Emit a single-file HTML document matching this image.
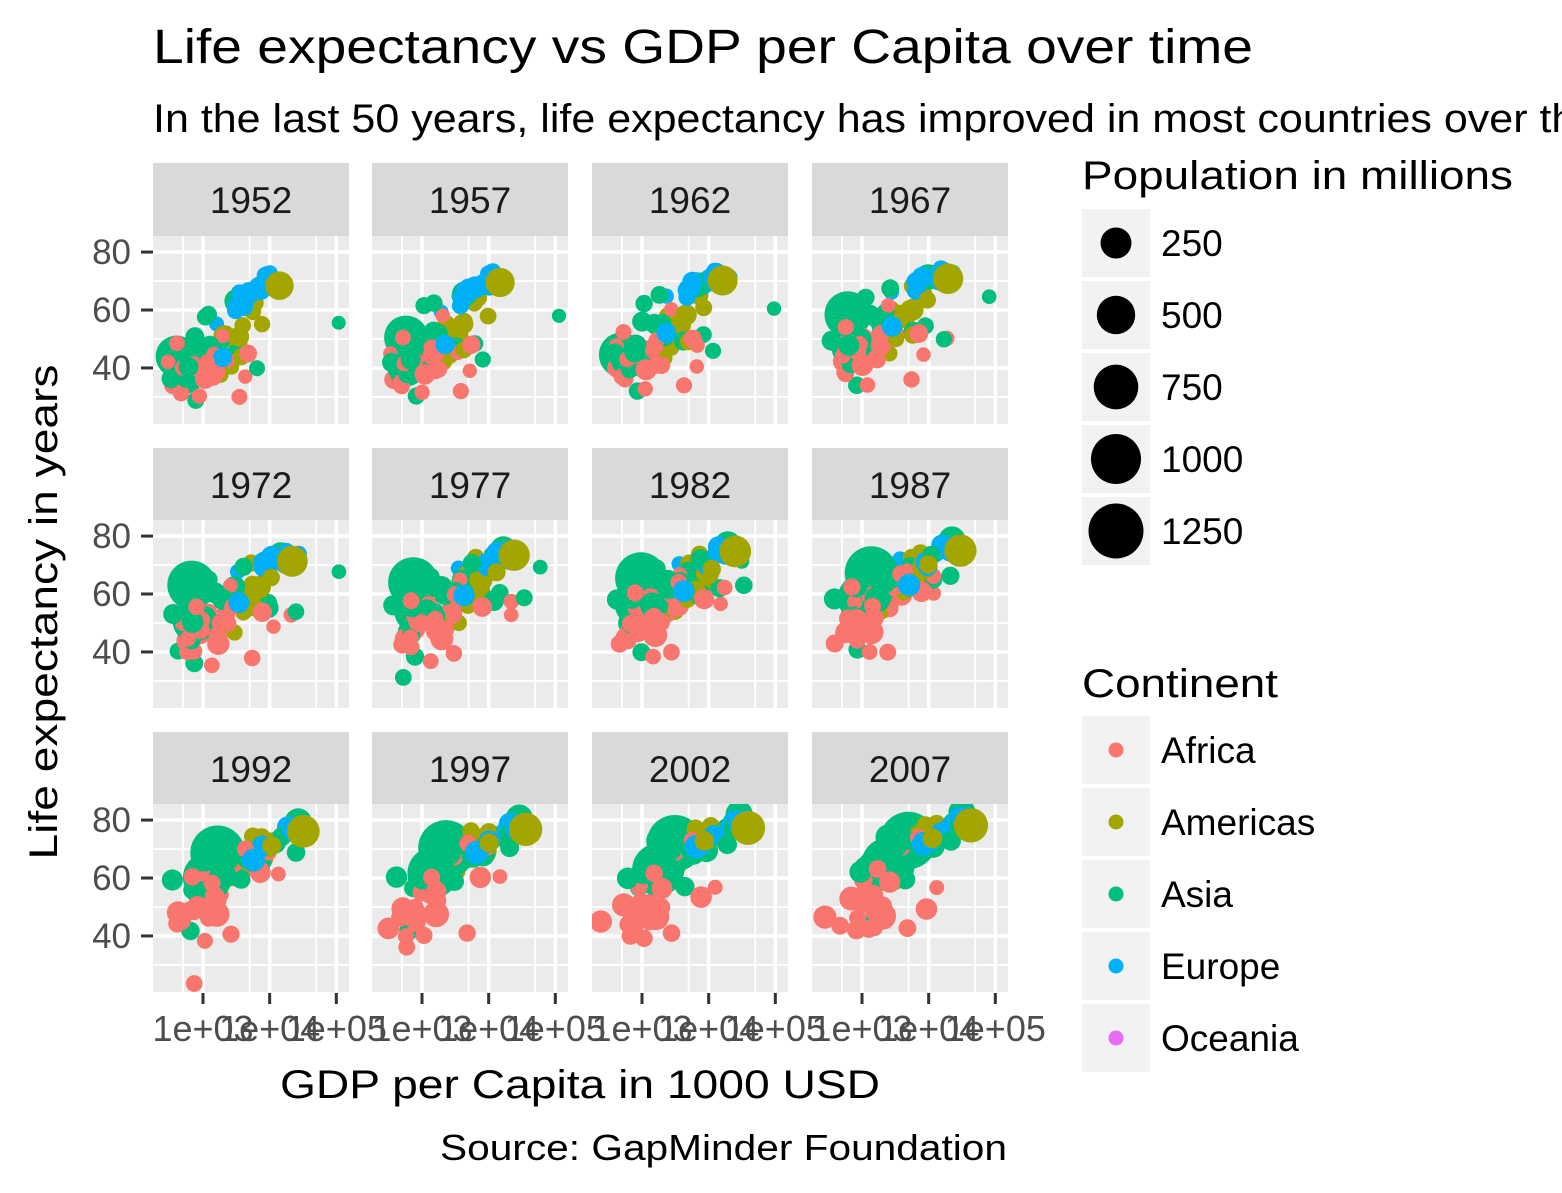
<!DOCTYPE html>
<html><head><meta charset="utf-8"><style>
body{margin:0;background:#fff}
svg{display:block;font-family:"Liberation Sans",Arial,sans-serif}
</style></head><body>
<svg id="chart" width="1562" height="1193" viewBox="0 0 1562 1193" xmlns="http://www.w3.org/2000/svg">
<text x="153" y="63" font-size="48" textLength="1100" lengthAdjust="spacingAndGlyphs">Life expectancy vs GDP per Capita over time</text>
<text x="153" y="132" font-size="40" textLength="1561" lengthAdjust="spacingAndGlyphs">In the last 50 years, life expectancy has improved in most countries over the world</text>
<g id="panels"></g>
<text x="580" y="1098" font-size="40" text-anchor="middle" textLength="600" lengthAdjust="spacingAndGlyphs">GDP per Capita in 1000 USD</text>
<text transform="translate(57,612) rotate(-90)" font-size="40" text-anchor="middle" textLength="495" lengthAdjust="spacingAndGlyphs">Life expectancy in years</text>
<text x="1007" y="1160" font-size="36" text-anchor="end" textLength="567" lengthAdjust="spacingAndGlyphs">Source: GapMinder Foundation</text>
<g id="legend"></g>
</svg>
<script>
const years=[1952,1957,1962,1967,1972,1977,1982,1987,1992,1997,2002,2007];
const xTicks=[1000,10000,100000];
const xTickLabels=["1e+03","1e+04","1e+05"];
const yTicks=[40,60,80];
const continentNames=["Africa","Americas","Asia","Europe","Oceania"];
const continentColors=["#F8766D","#A3A500","#00BF7D","#00B0F6","#E76BF3"];
const sizeBreaks=[250,500,750,1000,1250];
const countryNames=["China","India","United States","Indonesia","Brazil","Japan","Pakistan","Bangladesh","Nigeria","Germany","United Kingdom","Italy","France","Mexico","Philippines","Vietnam","Ethiopia","Egypt","Thailand","Turkey","Iran","Korea Rep","Kuwait","Saudi Arabia","Congo DR","South Africa","Gabon","Libya","Sierra Leone","Afghanistan","Kenya","Uganda","Zimbabwe","Rwanda","Lesotho","Mauritius","Argentina","Canada","Haiti","Bolivia","Australia","Norway","Switzerland","Portugal","Poland","Albania","Colombia","Myanmar","Cambodia","Nepal","Morocco","Mali","Angola","Tanzania","Sudan","Ghana","Chile","Malaysia","Iraq",
"Cameroon","Cote d'Ivoire","Madagascar","Mozambique","Senegal","Zambia","Algeria","Tunisia","Sri Lanka","Syria","Taiwan","Hong Kong","Israel","Spain","Netherlands","Sweden","Greece","Romania","Peru","Venezuela","Cuba","Ecuador","Guatemala"];
const countryContinent=[2,2,1,2,1,2,2,2,0,3,3,3,3,1,2,2,0,0,2,3,2,2,2,2,0,0,0,0,0,2,0,0,0,0,0,0,1,1,1,1,4,3,3,3,3,3,1,2,2,2,0,0,0,0,0,0,1,2,2,
0,0,0,0,0,0,0,0,2,2,2,2,2,3,3,3,3,3,1,1,1,1,1];
const gdpData=[
[400,575,488,613,677,741,962,1379,1656,2289,3119,4959],
[547,590,658,701,724,813,856,977,1164,1459,1747,2452],
[13990,14847,16173,19530,21806,24073,25010,29884,32004,35767,39097,42952],
[750,859,849,762,1111,1383,1517,1748,2383,3119,2874,3541],
[2109,2487,3337,3430,4986,6660,7031,7807,6950,7958,8131,9066],
[3217,4318,6577,9848,14779,16610,19384,22376,26825,28817,28605,31656],
[684,747,803,942,1050,1176,1443,1704,1972,2049,2093,2606],
[684,662,686,721,630,660,677,752,838,973,1136,1391],
[1077,1101,1151,1015,1698,1982,1577,1385,1619,1625,1615,2014],
[7144,10187,12902,14746,18016,20513,22032,24639,26505,27789,30036,32170],
[9980,11283,12477,14143,15895,17429,18232,21664,22705,26075,29479,33203],
[4931,6249,8244,10022,12269,14256,16537,19208,22014,24675,27968,28570],
[7030,8663,10560,12999,16107,18293,20294,22066,24704,27762,28926,30470],
[3478,4132,4582,5755,7110,7676,9611,8688,9472,9767,10742,11978],
[1273,1548,1650,1814,1990,2190,2598,2190,2279,2536,2651,3190],
[605,676,772,637,700,714,707,821,989,1386,1764,2442],
[362,378,419,516,566,556,577,573,422,515,531,691],
[1419,1459,1693,1815,2024,2785,3504,3885,3795,4173,4755,5581],
[757,793,1002,1296,1524,1961,2393,2982,4616,5853,5913,7458],
[1969,2219,2323,2826,3450,4269,4241,5089,5678,6601,6508,8458],
[3035,3290,4187,5907,9613,11889,7608,6642,7235,8263,9241,11606],
[1031,1488,1536,2029,3031,4657,5623,8533,12104,15994,19234,23348],
[108382,113523,95458,80895,109348,59265,31354,28118,34933,40301,35110,47307],
[6459,8157,11626,16903,24837,34168,33693,21198,24841,20586,19014,21655],
[781,906,896,862,904,796,674,672,458,313,241,278],
[4725,5487,5768,7115,7765,8028,8568,7825,7225,7479,7711,9270],
[4293,5211,6631,8358,11401,21746,15113,11864,13522,14723,12522,13206],
[2388,3448,6757,18773,21011,21951,17364,11770,9641,9467,9535,12057],
[880,1004,1116,1206,1353,1349,1466,1295,1068,575,700,863],
[779,821,853,836,740,786,978,852,649,635,727,975],
[854,944,897,1057,1222,1268,1348,1361,1341,1360,1288,1463],
[735,775,767,908,950,844,683,618,644,817,928,1056],
[407,519,527,570,799,686,788,706,693,792,672,470],
[493,540,597,511,591,670,882,848,737,590,786,863],
[299,336,411,498,496,745,797,774,977,1186,1275,1569],
[1968,2035,2747,2475,2575,3710,3688,4784,6058,7426,9022,10957],
[5911,6857,7133,8053,9443,10079,8998,9140,9308,10967,8798,12779],
[11367,12490,13462,16077,18971,22091,22899,26627,26343,28955,33329,36319],
[1840,1726,1797,1452,1654,1875,2012,1823,1456,1342,1270,1202],
[2677,2128,2181,2587,2980,3548,3157,2754,2962,3326,3413,3822],
[10040,10950,12217,14526,16789,18334,19477,21889,23425,26998,30688,34435],
[10095,11654,13450,16362,18965,23311,26299,31541,33966,41283,44684,49357],
[14734,17909,20432,22966,27195,26982,28398,30282,31871,32135,34481,37506],
[3068,3775,4727,6362,9022,10172,11754,13039,16207,17641,19971,20510],
[4029,4735,5339,6557,8007,9508,8452,9082,7739,10160,12002,15390],
[1601,1942,2313,2760,3313,3533,3631,3739,2497,3193,4604,5937],
[2144,2324,2492,2679,3265,3816,4398,4903,5445,6118,5756,7007],
[331,350,388,349,357,371,424,385,347,415,611,944],
[368,434,497,523,422,525,624,684,682,734,896,1713],
[546,598,652,676,674,695,682,744,897,1011,1057,1091],
[1688,1643,1567,1711,2197,2796,2953,2966,2927,2983,3258,3820],
[452,490,497,546,581,687,618,684,739,790,952,1043],
[3521,3828,4269,5523,5473,3009,2757,2430,2628,4748,2773,4797],
[716,699,722,849,916,962,874,831,825,789,899,1107],
[1615,1770,1959,1687,1659,2202,1895,1507,1492,1632,1994,2602],
[911,1044,1190,1126,1178,993,876,847,925,1005,1112,1328],
[3940,4316,4519,5107,5494,4757,5096,5547,7596,10118,10779,13172],
[1831,1810,2037,2278,2849,3828,4921,5249,7278,10133,10206,12452],
[4130,6229,8342,8931,9577,14689,14517,11644,3746,3077,4391,4471],
[1173,1313,1400,1508,1684,1783,2367,2603,1793,1694,1934,2042],
[1389,1500,1729,2052,2378,2518,2603,2157,1649,1787,1649,1545],
[1443,1590,1643,1634,1748,1544,1303,1156,1040,986,894,1045],
[469,496,556,566,724,503,462,390,410,473,634,824],
[1450,1568,1654,1613,1597,1562,1518,1441,1367,1393,1519,1712],
[1147,1312,1453,1777,1773,1589,1408,1213,1211,1071,1072,1271],
[2449,3014,2551,3247,4183,4910,5745,5681,5023,4797,5288,6223],
[1469,1395,1660,1932,2754,3120,3561,3810,4333,4877,5723,7093],
[1084,1073,1074,1136,1213,1348,1648,1877,2154,2665,3015,3970],
[1644,2118,2194,1882,2572,3195,3762,3116,3341,4014,4091,4185],
[1207,1508,1823,2644,4063,5597,7426,11054,15215,20207,23235,28718],
[3054,3629,4693,6198,8316,11186,14561,20038,24758,28378,30209,39725],
[4087,5386,7106,8394,12786,13307,15367,17123,18051,20897,21906,25523],
[3834,4565,5694,7994,10639,13237,13926,15765,18603,20445,24835,28821],
[8942,11277,12791,15363,18795,21209,21400,23651,26791,30246,33725,36798],
[8528,9912,12329,15258,17832,18856,20667,23587,23881,25267,29342,33860],
[3531,4916,6017,8513,12725,14196,15268,16121,17541,18748,22514,27538],
[3145,3944,4735,6471,8011,9356,9605,9697,6599,7347,7886,10808],
[3759,4245,4957,5788,5938,6281,6435,6361,4446,5838,5909,7409],
[7690,9803,8423,9541,10505,13144,11152,9883,10734,10165,8605,11416],
[5587,6092,5181,5690,5305,6380,7317,7532,5593,5432,6341,8948],
[3522,3781,4086,4580,5280,6680,7213,6482,7104,7430,5773,6873],
[2428,2617,2750,3243,4031,4880,4820,4246,4439,4684,4858,5186]];
const lifeData=[
[44,50.5,44.5,58.4,63.1,64,65.5,67.3,68.7,70.4,72,73],
[37.4,40.2,43.6,47.2,50.7,54.2,56.6,58.6,60.2,61.8,62.9,64.7],
[68.4,69.5,70.2,70.8,71.3,73.4,74.7,75,76.1,76.8,77.3,78.2],
[37.5,39.9,42.5,46,49.2,52.7,56.2,60.1,62.7,66,68.6,70.6],
[50.9,53.3,55.7,57.6,59.5,61.5,63.3,65.2,67.1,69.4,71,72.4],
[63,65.5,68.7,71.4,73.4,75.4,77.1,78.7,79.4,80.7,82,82.6],
[43.4,45.6,47.7,49.8,51.9,54,56.2,58.2,60.8,61.8,63.6,65.5],
[37.5,39.3,41.2,43.5,45.3,46.9,50,52.8,56,59.4,62,64.1],
[36.3,37.8,39.4,41,42.8,44.5,45.8,46.9,47.5,47.5,46.6,46.9],
[67.5,69.1,70.3,70.8,71,72.5,73.8,74.8,76.1,77.3,78.7,79.4],
[69.2,70.4,70.8,71.4,72,72.8,74,75,76.4,77.2,78.5,79.4],
[65.9,67.8,69.2,71.1,72.2,73.5,75,76.4,77.4,78.8,80.2,80.5],
[67.4,68.9,70.5,71.6,72.4,73.8,74.9,76.3,77.5,78.6,79.6,80.7],
[50.8,55.2,58.3,60.1,62.4,65,67.4,69.5,71.5,73.7,74.9,76.2],
[47.8,51.3,54.8,56.4,58.1,60,62.1,64.2,66.5,68.6,70.3,71.7],
[40.4,42.9,45.4,47.8,50.3,55.8,58.8,62.8,67.7,70.7,73,74.2],
[34.1,36,40,42.2,43.8,44.5,44.9,46.7,48.1,49.4,50.7,52.9],
[41.9,44.4,47,49.3,51.1,53.3,56,59.8,63.7,67.2,69.8,71.3],
[50.8,53.3,56,58.3,60.4,62.5,64.6,66.1,67.3,67.5,68.6,70.6],
[43.6,48.1,52.1,54.3,57,59.5,61,63.1,66.1,68.8,70.8,71.8],
[44.9,47.2,49.3,52.5,55.2,57.7,59.6,63,65.7,68,69.5,71],
[47.5,52.7,55.3,57.7,62.6,64.8,67.1,69.8,72.2,74.6,77,78.6],
[55.6,58,60.5,64.6,67.7,69.3,71.3,74.2,75.2,76.2,76.9,77.6],
[39.9,42.9,45.9,49.9,53.9,58.7,63,66.3,68.8,70.5,71.6,72.8],
[39.1,40.7,42.1,44,46,47.8,47.8,47.4,45.5,42.6,45,46.5],
[45,48,50,51.9,53.7,55.5,58.2,60.8,61.9,60.2,53.4,49.3],
[37,39,40.5,44.6,48.7,52.8,56.6,60.2,61.4,60.5,56.8,56.7],
[42.7,45.3,47.8,50.2,52.8,57.4,62.2,66.2,68.8,70.5,72.7,74],
[30.3,31.6,32.8,34.1,35.4,36.8,38.4,40,38.3,39.9,41,42.6],
[28.8,30.3,32,34,36.1,38.4,39.9,40.8,41.7,41.8,42.1,43.8],
[42.3,44.7,47.9,50.7,53.6,56.2,58.8,59.3,59.3,54.4,51,54.1],
[40,42.6,45.3,48.1,51,50.4,49.8,51.5,48.8,44.6,47.8,51.5],
[48.5,50.5,52.4,54.1,55.6,57.7,60.4,62.4,60.4,46.8,40,43.5],
[40,41.5,43,44.1,44.6,45,46.2,44,23.6,36.1,43.4,46.2],
[42.1,45,47.7,48.5,49.8,52.5,55.1,57.2,59.7,55.6,44.6,42.6],
[51,58.1,60.2,61.6,62.9,64.9,66.7,68,69.2,70.7,72,72.8],
[62.5,64.4,65.1,65.6,67.1,68.5,69.9,70.8,71.9,73.3,74.3,75.3],
[68.8,70,71.3,72.1,72.9,74.2,75.8,76.9,78,78.6,79.8,80.7],
[37.6,40.7,43.6,46.2,48,49.9,51.5,53.6,55.1,56.7,58.1,60.9],
[40.4,41.9,43.4,45,46.7,50,53.9,57.3,60,62.1,63.9,65.6],
[69.1,70.3,70.9,71.1,71.9,73.5,74.7,76.3,77.6,78.8,80.4,81.2],
[72.7,73.4,73.5,74.1,74.3,75.4,76,75.9,77.3,78.3,79,80.2],
[69.6,70.6,71.3,72.8,73.8,75.4,76.2,77.4,78,79.4,80.6,81.7],
[59.8,61.5,64.4,66.6,69.3,70.4,72.8,74.1,74.9,76,77.3,78.1],
[61.3,65.8,67.6,69.6,70.9,70.7,71.3,71,71,72.8,74.7,75.6],
[55.2,59.3,64.8,66.2,67.7,68.9,70.4,72,71.6,73,75.7,76.4],
[50.6,55.1,57.9,60,61.6,63.8,66.7,67.8,68.4,70.3,71.7,72.9],
[36.3,41.9,45.1,49.4,53.1,56.1,58.1,58.3,59.3,60.3,59.9,62.1],
[39.4,41.4,43.4,45.4,40.3,31.2,51,53.9,55.8,56.5,56.8,59.7],
[36.2,37.7,39.4,41.2,44,46.7,49.6,52.5,55.7,59.4,61.3,63.8],
[42.9,45.4,47.9,50.3,52.9,55.7,59.7,62.7,65.4,67.7,69.6,71.2],
[33.7,35.3,36.9,38.5,40,41.7,43.9,46.4,48.4,49.9,51.8,54.5],
[30,32,34,36,37.9,39.5,39.9,39.9,40.6,41,41,42.7],
[41.2,43,44.2,45.8,47.6,49.9,50.6,51.5,50.4,48.5,49.7,52.5],
[38.6,39.6,40.9,42.9,45,47.8,50.3,51.7,53.6,55.4,56.4,58.6],
[43.1,44.8,46.5,48.1,49.9,51.8,53.7,55.7,57.5,58.6,58.5,60],
[54.7,56.1,57.9,60.5,63.4,67.1,70.6,72.5,74.1,75.8,77.9,78.6],
[48.5,52.1,55.7,59.4,63,65.3,68,69.5,70.7,71.9,73,74.2],
[45.3,48.4,51.5,54.5,57,60.4,62,65,59.5,58.8,57,59.5],
[38.5,40.4,42.6,44.8,47,49.4,53,55,54.3,52.2,49.9,50.4],
[40.5,42.5,44.9,47.4,49.8,52.4,54,54.7,52,48,46.8,48.3],
[36.7,38.9,40.8,42.9,44.9,46.9,49,49.4,52.2,55,57.3,59.4],
[31.3,33.8,36.2,38.1,40.3,42.5,42.8,42.9,44.3,46.3,44,42.1],
[37.3,39.3,41.5,43.6,45.8,48.9,52.4,55.8,58.2,60.2,61.6,63.1],
[42,44.1,46,47.8,50.1,51.4,51.8,50.8,46.1,40.2,39.2,42.4],
[43.1,45.7,48.3,51.4,54.5,58,61.4,65.8,67.7,69.2,71,72.3],
[44.6,47.1,49.6,52.1,55.6,59.8,64,66.9,70,72,73,73.9],
[57.6,61.5,62.2,64.3,65,65.9,68.8,69,70.4,70.5,70.8,72.4],
[45.9,48.3,50.3,53.7,57.3,61.2,64.6,67,69.2,71.5,73.1,74.1],
[58.5,62.4,65.2,67.5,69.4,70.6,72.2,73.4,74.3,75.3,77,78.4],
[61,64.8,67.7,70,72,73.6,75.5,76.2,77.6,80,81.5,82.2],
[65.4,67.8,69.4,70.8,71.6,73.1,74.5,75.6,76.9,78.3,79.7,80.7],
[64.9,66.7,69.7,71.4,73.1,74.4,76.3,76.9,77.6,78.8,79.8,80.9],
[72.1,73,73.2,73.8,73.8,75.2,76,76.8,77.4,78,78.5,79.8],
[71.9,72.5,73.4,74.2,74.7,75.4,76.4,77.2,78.2,79.4,80,80.9],
[65.9,67.9,69.5,71,72.3,73.7,75.2,76.7,77,77.9,78.3,79.5],
[61,64.1,66.8,66.8,69.2,69.5,69.7,69.5,69.4,69.7,71.3,72.5],
[43.9,46.3,49.1,51.4,55.4,57.9,61.4,64.1,66.5,68.4,69.9,71.4],
[55.1,57.9,60.8,63.5,65.7,67.5,68.6,70.2,71.2,72.1,72.8,73.7],
[59.4,62.3,65.2,68.3,70.7,72.6,73.7,74.2,74.4,76.2,77.2,78.3],
[48.4,51.4,54.6,56.7,58.8,61.3,64.3,67.2,69.6,72.3,74.2,75],
[42,44.1,47,50,53.7,56,58.1,60.8,63.4,66.3,69,70.3]];
const popData=[
[556,637,666,755,862,943,1000,1084,1165,1230,1280,1319],
[372,409,454,506,567,634,708,788,872,959,1034,1110],
[157,171,186,199,210,220,232,243,257,272,288,301],
[82,90,99,109,121,137,153,169,184,200,212,224],
[57,65,76,88,100,114,128,142,155,168,180,190],
[86,91,95,100,107,113,118,122,124,126,127,128],
[41,46,51,57,66,75,92,105,120,135,153,169],
[47,51,57,63,70,80,93,104,113,123,135,150],
[33,37,41,47,53,62,74,82,93,106,119,135],
[69,71,73,76,79,78,78,77,81,82,82,82],
[50,51,53,55,56,56,56,57,58,59,59,60],
[47,49,51,53,55,56,56,57,57,57,57,58],
[42,44,47,50,52,53,54,56,57,59,60,61],
[30,35,41,47,55,63,71,80,88,96,102,109],
[22,25,30,35,40,46,53,60,67,76,82,91],
[26,28,33,38,44,50,56,62,69,76,80,85],
[20,22,24,27,30,34,38,42,53,59,67,76],
[22,25,28,31,34,38,45,52,59,66,73,80],
[21,25,29,34,39,45,49,53,56,61,63,65],
[22,25,29,33,37,42,47,53,58,63,67,71],
[17,19,22,26,31,35,43,52,60,63,67,69],
[20,22,26,30,33,36,39,42,44,46,47,49],
[0.16,0.21,0.36,0.58,0.84,1.14,1.5,1.89,1.42,1.77,2.1,2.5],
[4,4.4,4.9,5.6,6.5,8.1,11,14.6,16.9,21,24,27],
[14,16,18,20,23,26,30,36,41,47,55,65],
[14,16,18,20,23,27,31,35,39,42,44,44],
[0.4,0.4,0.5,0.5,0.5,0.7,0.8,0.9,1,1.1,1.3,1.5],
[1,1.2,1.4,1.8,2.2,2.7,3.3,3.8,4.4,4.8,5.4,6],
[2.1,2.3,2.5,2.7,2.9,3.1,3.5,3.9,4.3,4.6,5.4,6.1],
[8,9,10,11,13,15,13,13,16,22,25,32],
[6,7,8,10,12,14,17,21,25,28,31,35],
[5.8,6.7,7.7,8.9,10.2,11.5,12.9,15.3,18.3,21.2,24.7,29.2],
[3,3.6,4.3,4.9,5.9,6.9,7.6,9.2,10.7,11.4,11.9,12.3],
[2.5,2.7,3.1,3.5,4,4.7,5.5,6.3,7.3,7.2,7.9,8.9],
[0.7,0.8,0.9,1,1.1,1.3,1.5,1.6,1.8,2,2,2],
[0.5,0.6,0.7,0.8,0.9,0.9,1,1,1.1,1.1,1.2,1.3],
[18,20,22,23,25,27,29,31,33,36,38,40],
[14,17,19,21,22,24,25,26,29,31,32,33],
[3.2,3.5,3.9,4.3,4.7,5.3,5.2,5.8,6.3,6.9,7.6,8.5],
[2.9,3.2,3.6,4,4.6,5.1,5.6,6.2,6.9,7.7,8.4,9.1],
[8.7,9.7,10.8,11.9,13.2,14.1,15.2,16.3,17.5,18.6,19.5,20.4],
[3.3,3.5,3.6,3.8,3.9,4,4.1,4.2,4.3,4.4,4.5,4.6],
[4.8,5.1,5.7,6.1,6.4,6.3,6.5,6.6,6.9,7.2,7.4,7.6],
[8.5,8.8,9,9.1,8.9,9.7,9.9,9.9,10,10.2,10.4,10.6],
[26,28,30,32,33,35,36,38,38,39,38,38],
[1.3,1.5,1.7,2,2.3,2.5,2.8,3.1,3.3,3.4,3.5,3.6],
[12,14,17,19,23,25,28,31,35,38,41,44],
[20,22,23,26,28,31,34,38,41,43,45,47],
[4.7,5.3,6.1,7,7.5,7,7.3,8.4,10.2,11.8,12.9,14.1],
[9,9.7,10.3,11.3,12.4,13.9,15.8,17.9,20.3,23,25.9,28.9],
[9.9,11.4,13.1,15,17,18.4,20.2,22.9,26,28.5,31.2,33.8],
[3.8,4.2,4.7,5.2,5.8,6.5,6.9,7.6,8.4,9.4,10.6,12],
[4.2,4.6,4.8,5.2,5.9,6.2,7,7.9,8.7,9.9,10.9,12.4],
[8,9,10,12,14,17,19,23,26,30,34,38],
[8.5,9.8,11.2,12.7,14.6,17.1,20.4,24.7,28.2,32.2,37.1,42.3],
[5.6,6.4,7.4,8.5,9.9,10.5,11.4,14.2,16.3,18.4,20.6,22.9],
[6.4,7,7.6,8.5,9.4,10.6,11.5,12.5,13.6,14.6,15.5,16.3],
[6.7,7.7,8.9,10.2,11.4,12.8,14.4,16.3,18.3,20.5,22.7,24.8],
[5.4,6.2,7.2,8.5,10.1,11.9,14.2,16.5,17.9,20.8,24,27.5],
[5,5.4,5.8,6.3,7,7.9,9.2,10.8,12.5,14.2,15.9,17.7],
[3,3.3,3.8,4.7,6.1,7.5,9,10.8,12.5,14.6,16.3,18],
[4.8,5.2,5.7,6.3,7.1,8,9.2,10.6,12.2,14.2,16.5,19.2],
[6.4,7,7.8,8.7,9.8,11.1,12.6,12.9,13.2,16.6,18.5,20],
[2.8,3.1,3.4,4,4.6,5.3,6.1,7,8.3,9.5,10.9,12.3],
[2.7,3,3.4,3.9,4.5,5.2,6.1,7.3,8.4,9.4,10.6,11.7],
[9.3,10.3,11,12.8,14.8,17.2,20,23.3,26.3,29.1,31.3,33.3],
[3.6,3.9,4.3,4.8,5.3,6,6.7,7.7,8.5,9.2,9.8,10.3],
[8,9.1,10.4,11.7,13,14.1,15.4,16.5,17.6,18.7,19.6,20.4],
[3.7,4.1,4.9,5.7,6.7,7.9,9.4,11.2,13.2,15.1,17.2,19.3],
[8.6,10.2,11.9,13.6,15.2,16.8,18.5,19.8,20.7,21.6,22.5,23.2],
[2.1,2.7,3.3,3.7,4.1,4.6,5.3,5.6,5.8,6.5,6.8,7],
[1.6,2,2.3,2.7,3.1,3.5,3.9,4.4,5,5.5,6,6.4],
[28.5,29.8,31.2,32.9,34.5,36.4,38,38.9,39.5,39.9,40.2,40.4],
[10.4,11,11.8,12.6,13.3,13.9,14.3,14.6,15.2,15.6,16.1,16.6],
[7.1,7.4,7.6,7.9,8.1,8.3,8.3,8.4,8.7,8.9,8.95,9],
[7.7,8,8.4,8.7,8.9,9.3,9.8,10,10.3,10.5,10.6,10.7],
[16.6,17.8,18.7,19.3,20.7,21.7,22.4,22.7,22.8,22.6,22.4,22.3],
[8,9.1,10.5,12.1,14,16,18.1,20.2,22.4,24.4,26.8,28.7],
[5.4,6.7,8.1,9.7,11.5,13.5,15.6,17.9,20.3,22.4,24.3,26.1],
[6,6.6,7.3,8.1,8.8,9.5,9.8,10.2,10.7,11,11.2,11.4],
[3.5,4,4.7,5.3,6.1,7,8,9.5,10.7,11.9,12.9,13.8],
[3.1,3.6,4.2,4.9,5.6,6.5,7.5,8.8,10.1,11.2,12.3,12.6]];

const NS="http://www.w3.org/2000/svg";
const colX=[153,372,592,812], PW=196;
const stripTop=[163,448,732], panelTop=[236,520,804], PH=188, SH=73;
const XMIN=2.25,XMAX=5.19,YMIN=20.65,YMAX=85.55;
function xScale(v,c){return colX[c]+(Math.log10(v)-XMIN)/(XMAX-XMIN)*PW;}
function yScale(v,r){return panelTop[r]+PH-(v-YMIN)/(YMAX-YMIN)*PH;}
function rScale(p){return 6.8+0.6*Math.sqrt(p);}
function mk(tag,attrs,parent){const e=document.createElementNS(NS,tag);for(const k in attrs)e.setAttribute(k,attrs[k]);parent.appendChild(e);return e;}
const drawOrder=countryNames.map((n,k)=>k).sort((a,b)=>countryNames[a]<countryNames[b]?-1:1);
const panels=document.getElementById('panels');
years.forEach((yr,i)=>{
  const c=i%4,r=Math.floor(i/4);
  const g=mk('g',{},panels);
  
  
  const strip=mk('rect',{x:colX[c],y:stripTop[r],width:PW,height:SH,fill:'#d9d9d9'},g);
  
  
  const st=mk('text',{x:colX[c]+PW/2,y:stripTop[r]+50,'font-size':37,'text-anchor':'middle',fill:'#1a1a1a'},g);
  st.textContent=yr;
  
  
  const bg=mk('rect',{x:colX[c],y:panelTop[r],width:PW,height:PH,fill:'#ebebeb'},g);
  
  
  [500,5000,50000].forEach(v=>mk('line',{x1:xScale(v,c),x2:xScale(v,c),y1:panelTop[r],y2:panelTop[r]+PH,stroke:'#fff','stroke-width':1.8},g));
  [30,50,70].forEach(v=>mk('line',{x1:colX[c],x2:colX[c]+PW,y1:yScale(v,r),y2:yScale(v,r),stroke:'#fff','stroke-width':1.8},g));
  xTicks.forEach(v=>mk('line',{x1:xScale(v,c),x2:xScale(v,c),y1:panelTop[r],y2:panelTop[r]+PH,stroke:'#fff','stroke-width':3.5},g));
  yTicks.forEach(v=>mk('line',{x1:colX[c],x2:colX[c]+PW,y1:yScale(v,r),y2:yScale(v,r),stroke:'#fff','stroke-width':3.5},g));
  const clip=mk('clipPath',{id:'clip'+i},g);
  mk('rect',{x:colX[c],y:panelTop[r],width:PW,height:PH},clip);
  const pg=mk('g',{'clip-path':'url(#clip'+i+')'},g);
  drawOrder.forEach(k=>{
    const nm=countryNames[k];
    const cc=countryContinent[k];
    const pt=mk('circle',{cx:xScale(gdpData[k][i],c).toFixed(1),cy:yScale(lifeData[k][i],r).toFixed(1),r:rScale(popData[k][i]).toFixed(1),fill:continentColors[cc]},pg);
    
    
  });
  if(c===0){
    yTicks.forEach(v=>{
      mk('line',{x1:141,x2:153,y1:yScale(v,r),y2:yScale(v,r),stroke:'#333','stroke-width':3},g);
      const t=mk('text',{x:131,y:yScale(v,r)+12,'font-size':35,'text-anchor':'end',fill:'#4d4d4d'},g);
      t.textContent=v;
      
      
    });
  }
  if(r===2){
    xTicks.forEach((v,j)=>{
      const x=xScale(v,c);
      mk('line',{x1:x,x2:x,y1:993,y2:1004,stroke:'#333','stroke-width':3},g);
      const t=mk('text',{x:x,y:1041,'font-size':36,'text-anchor':'middle',fill:'#4d4d4d'},g);
      t.textContent=xTickLabels[j];
      
      
    });
  }
});
const lg=document.getElementById('legend');
const lt1=mk('text',{x:1082,y:189,'font-size':40,textLength:431,lengthAdjust:'spacingAndGlyphs'},lg);
lt1.textContent='Population in millions';


sizeBreaks.forEach((b,j)=>{
  const cy=243+j*72;
  const kb=mk('rect',{x:1082,y:cy-34,width:68,height:68,fill:'#f2f2f2'},lg);
  
  
  const rr=Math.sqrt(111+0.516*b);
  mk('circle',{cx:1116,cy:cy,r:rr,fill:'#000'},lg);
  const t=mk('text',{x:1161,y:cy+13,'font-size':37},lg);
  t.textContent=b;
  
  
});
const lt2=mk('text',{x:1082,y:697,'font-size':40,textLength:196,lengthAdjust:'spacingAndGlyphs'},lg);
lt2.textContent='Continent';


continentNames.forEach((n,j)=>{
  const cy=750+j*72;
  const kb=mk('rect',{x:1082,y:cy-34,width:68,height:68,fill:'#f2f2f2'},lg);
  
  
  mk('circle',{cx:1116,cy:cy,r:7.5,fill:continentColors[j]},lg);
  const t=mk('text',{x:1161,y:cy+13,'font-size':37},lg);
  t.textContent=n;
  
  
});
</script>
</body></html>
